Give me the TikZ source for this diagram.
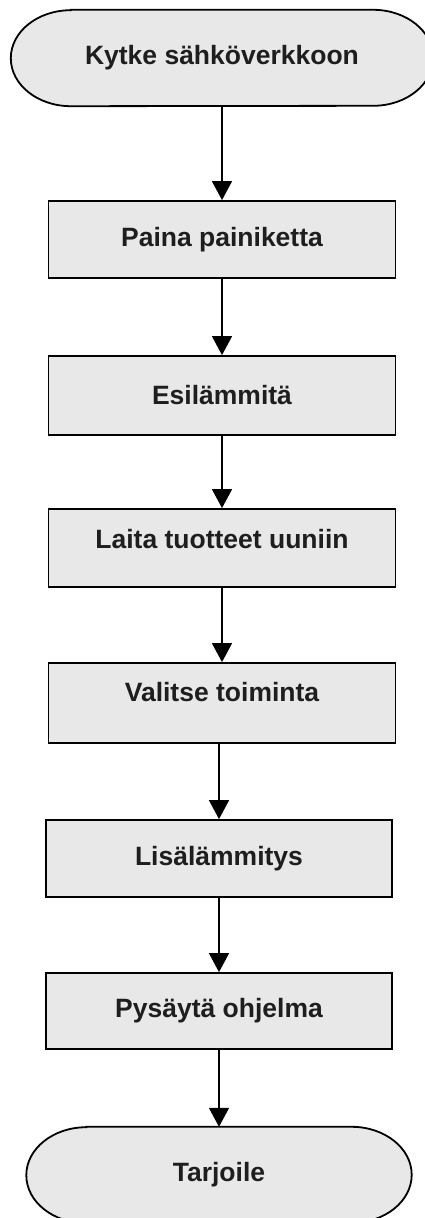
\documentclass[tikz,border=0pt]{standalone}
\usepackage{fontspec}
\setmainfont{Liberation Sans}
\usetikzlibrary{arrows.meta,backgrounds}
\definecolor{boxfill}{HTML}{E8E8E8}
\definecolor{txt}{HTML}{1E1E1E}
\begin{document}
\begin{tikzpicture}[x=1pt,y=1pt,
  every node/.style={font=\fontsize{26.5}{30}\selectfont\bfseries, text=txt, inner sep=0pt},
  stepbox/.style={draw=black, line width=1.8pt, fill=boxfill, minimum width=347pt, minimum height=#1},
  termnode/.style={minimum width=#1, minimum height=96pt},
  termshape/.style={draw=black, line width=1.8pt, fill=boxfill},
  flow/.style={draw=black, line width=1.6pt, -{Triangle[width=20pt,length=19pt]}}
]
\useasboundingbox (0,0) rectangle (425,-1218);

% terminals (text nodes; outlines drawn on background)
\node[termnode=422pt] (t1) at (222,-58) {Kytke sähköverkkoon};
\node[termnode=385pt] (t2) at (219,-1175) {Tarjoile};
\begin{pgfonlayer}{background}
\foreach \n in {t1,t2}{
  \path[termshape] ([xshift=60pt]\n.north west) -- ([xshift=-60pt]\n.north east)
    arc[start angle=90,end angle=-90,x radius=60pt,y radius=48pt]
    -- ([xshift=60pt]\n.south west)
    arc[start angle=270,end angle=90,x radius=60pt,y radius=48pt] -- cycle;
}
\end{pgfonlayer}

% process boxes
\node[stepbox=77pt] (b1) at (222,-239.5) {Paina painiketta};
\node[stepbox=79pt] (b2) at (222,-395.5) {Esilämmitä};
\node[stepbox=78pt, text depth=18pt] (b3) at (222,-548) {Laita tuotteet uuniin};
\node[stepbox=80pt, text depth=22pt] (b4) at (222,-703) {Valitse toiminta};
\node[stepbox=77pt, minimum width=346pt] (b5) at (219,-858.5) {Lisälämmitys};
\node[stepbox=76pt, minimum width=346pt] (b6) at (219,-1011) {Pysäytä ohjelma};

% connectors
\draw[flow] (t1.south) -- (t1.south |- b1.north);
\draw[flow] (b1.south) -- (b2.north);
\draw[flow] (b2.south) -- (b3.north);
\draw[flow] (b3.south) -- (b4.north);
\draw[flow] (b4.south -| b5.north) -- (b5.north);
\draw[flow] (b5.south) -- (b6.north);
\draw[flow] (b6.south) -- (b6.south |- t2.north);
\end{tikzpicture}
\end{document}
